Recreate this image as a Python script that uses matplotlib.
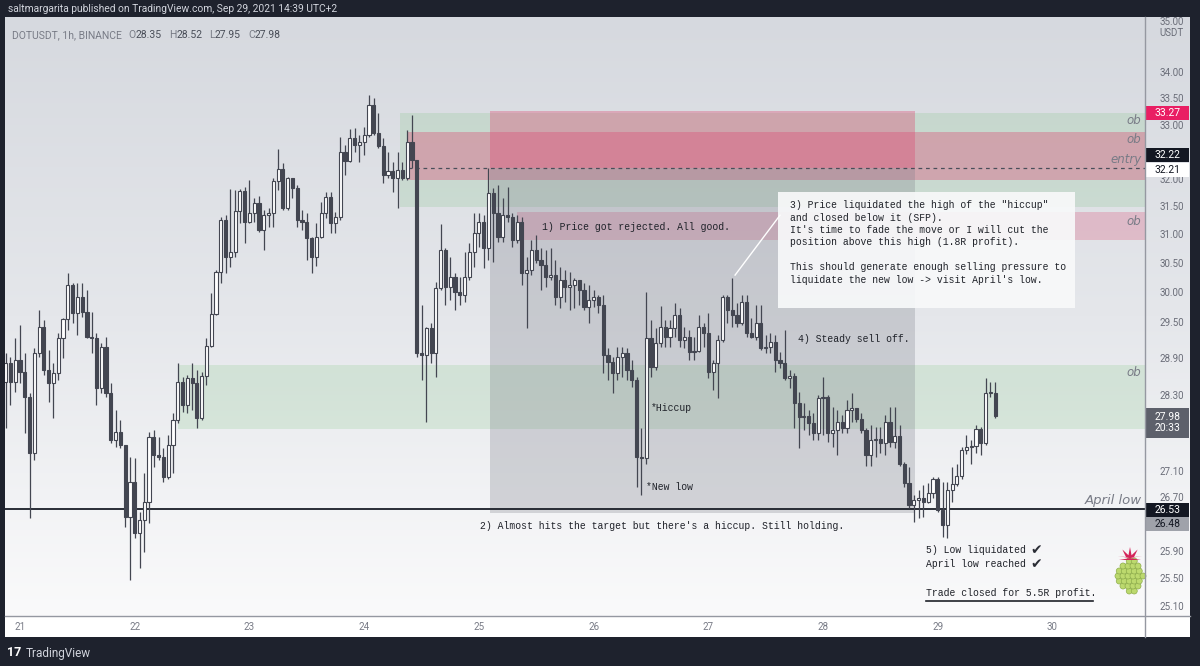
import numpy as np
import matplotlib
matplotlib.use("Agg")
import matplotlib.pyplot as plt
from matplotlib.patches import Rectangle, Circle, Polygon
from matplotlib.lines import Line2D
from matplotlib.colors import LinearSegmentedColormap
import matplotlib.transforms as mtransforms

# ---------------- data (DOTUSDT 1h, BINANCE) ----------------
first_hour = -3          # first candle = Sep 20, 21:00 (hours from Sep 21 00:00)
first_open = 28.52
closes = [
    28.83, 28.52, 28.88, 28.69, 28.28, 27.39, 29.00, 29.43, 28.72, 28.50,
    28.67, 29.24, 29.56, 30.14, 29.66, 29.93, 29.68, 29.26, 29.24, 28.42,
    29.10, 28.34, 27.60, 27.72, 27.52, 26.41, 26.94, 26.17, 26.37, 26.64,
    27.64, 27.36, 27.33, 27.02, 27.52, 27.92, 28.52, 28.15, 28.58, 28.50,
    27.94, 28.62, 29.11, 29.64, 30.36, 31.27, 30.62, 30.71, 31.44, 31.79,
    31.24, 31.40, 31.58, 31.10, 31.36, 31.40, 31.97, 32.20, 31.49, 32.03,
    31.85, 31.27, 31.24, 30.95, 30.62, 30.97, 31.40, 31.69, 31.22, 31.33,
    32.51, 32.34, 32.77, 32.64, 32.69, 32.82, 33.39, 32.86, 32.62, 32.08,
    32.16, 32.03, 32.18, 32.03, 32.69, 32.36, 29.00, 28.96, 29.41, 29.00,
    30.09, 30.74, 30.10, 30.28, 30.02, 29.97, 30.28, 30.71, 31.04, 31.24,
    30.78, 31.76, 31.40, 30.97, 31.36, 31.33, 30.92, 31.24, 30.35, 30.40,
    30.74, 30.57, 30.48, 30.28, 30.31, 29.93, 30.22, 30.10, 30.14, 30.22,
    30.05, 29.76, 29.88, 29.93, 29.80, 28.96, 28.85, 28.67, 28.93, 29.00,
    28.72, 28.55, 27.33, 27.31, 29.24, 28.77, 29.16, 29.43, 29.26, 29.41,
    29.63, 29.21, 29.26, 29.02, 29.03, 29.43, 29.33, 28.69, 28.83, 29.21,
    29.93, 29.71, 29.63, 29.49, 29.85, 29.33, 29.26, 29.49, 29.08, 29.10,
    29.18, 28.88, 28.83, 28.58, 28.62, 28.18, 27.96, 27.97, 27.86, 27.70,
    28.26, 28.28, 27.70, 27.75, 27.88, 27.78, 28.07, 28.10, 27.93, 27.75,
    27.36, 27.60, 27.61, 27.55, 27.88, 27.57, 27.66, 27.23, 26.93, 26.59,
    26.67, 26.71, 26.64, 26.78, 27.00, 26.52, 26.29, 26.82, 26.91, 27.04,
    27.44, 27.49, 27.50, 27.77, 27.55, 28.35, 28.35, 27.98,
]
highs = [
    29.00, 28.93, 29.24, 29.46, 29.00, 28.34, 29.08, 29.71, 29.54, 29.05,
    28.83, 29.33, 29.58, 30.35, 30.17, 30.17, 30.17, 30.05, 29.68, 29.33,
    29.16, 29.26, 28.50, 28.07, 27.91, 27.52, 27.33, 27.31, 26.49, 27.08,
    27.72, 27.75, 27.64, 27.47, 27.67, 28.02, 28.83, 28.60, 28.63, 28.83,
    28.72, 28.68, 29.24, 30.00, 30.40, 31.33, 31.36, 31.83, 31.81, 31.83,
    31.87, 31.99, 31.67, 31.70, 31.45, 31.49, 32.03, 32.56, 32.30, 32.05,
    32.03, 31.90, 31.45, 31.40, 30.97, 31.22, 31.60, 31.78, 31.78, 31.42,
    32.79, 32.64, 32.94, 32.96, 32.82, 32.97, 33.58, 33.52, 33.24, 32.77,
    32.51, 32.32, 32.51, 32.32, 32.92, 33.20, 32.36, 29.80, 29.43, 29.49,
    30.19, 31.20, 30.78, 30.62, 30.35, 30.28, 30.71, 30.87, 31.40, 31.40,
    31.36, 32.21, 31.85, 31.90, 31.67, 31.87, 31.40, 31.36, 31.33, 30.62,
    30.92, 31.01, 30.78, 30.74, 30.78, 30.57, 30.45, 30.40, 30.36, 30.26,
    30.22, 30.17, 30.14, 30.05, 29.97, 29.97, 29.08, 28.93, 29.10, 29.10,
    29.08, 28.88, 28.60, 27.78, 30.02, 29.54, 29.41, 29.78, 29.54, 29.54,
    29.83, 29.75, 29.43, 29.38, 29.26, 29.63, 29.49, 29.66, 28.88, 29.30,
    29.97, 29.97, 30.26, 29.83, 29.97, 29.97, 29.58, 29.80, 29.80, 29.30,
    29.33, 29.30, 29.02, 29.38, 28.72, 28.67, 28.36, 28.18, 28.07, 28.02,
    28.31, 28.60, 28.31, 28.12, 28.07, 27.99, 28.23, 28.34, 28.10, 28.02,
    27.78, 27.83, 27.80, 27.80, 28.00, 28.12, 28.12, 27.83, 27.25, 27.17,
    26.75, 26.82, 26.90, 26.93, 27.02, 27.02, 26.94, 26.94, 27.17, 27.23,
    27.49, 27.67, 27.60, 27.83, 27.80, 28.58, 28.52, 28.52,
]
lows = [
    27.78, 28.15, 28.36, 28.50, 27.70, 26.40, 27.28, 28.93, 28.63, 28.20,
    27.94, 28.55, 28.91, 29.38, 29.49, 29.30, 29.59, 29.24, 29.00, 28.15,
    28.34, 28.28, 27.55, 27.49, 27.47, 26.26, 25.48, 26.10, 25.66, 25.89,
    26.32, 27.17, 27.28, 26.94, 27.00, 27.08, 27.86, 28.04, 28.02, 28.07,
    27.78, 27.91, 28.47, 29.10, 29.63, 30.17, 30.35, 30.45, 30.62, 31.22,
    30.87, 31.22, 31.24, 31.06, 30.74, 31.15, 31.15, 31.81, 31.45, 31.45,
    31.67, 31.15, 31.10, 30.57, 30.35, 30.47, 30.95, 31.31, 31.05, 31.05,
    31.27, 32.08, 32.32, 32.51, 32.32, 32.45, 32.79, 32.82, 32.58, 31.94,
    32.03, 31.78, 31.49, 31.99, 31.99, 32.21, 28.93, 28.55, 27.88, 28.83,
    28.60, 30.05, 29.80, 29.88, 29.71, 29.80, 29.85, 30.22, 30.45, 30.80,
    30.43, 30.57, 30.54, 30.88, 30.88, 31.24, 30.80, 30.87, 30.14, 29.41,
    30.31, 30.52, 30.05, 30.10, 30.22, 29.80, 29.75, 29.85, 29.71, 29.75,
    29.80, 29.71, 29.49, 29.76, 29.66, 28.67, 28.55, 28.34, 28.55, 28.60,
    28.55, 28.44, 26.87, 26.75, 27.23, 28.60, 28.72, 29.10, 29.10, 29.10,
    29.26, 29.10, 29.08, 28.88, 28.88, 29.02, 29.10, 28.58, 28.39, 28.26,
    29.18, 29.49, 29.43, 29.43, 29.46, 29.26, 29.24, 29.21, 29.05, 29.00,
    29.00, 28.69, 28.75, 28.55, 28.42, 27.78, 27.47, 27.75, 27.67, 27.60,
    27.60, 27.67, 27.57, 27.49, 27.36, 27.70, 27.70, 27.88, 27.88, 27.70,
    27.20, 27.20, 27.33, 27.39, 27.36, 27.49, 27.47, 27.20, 26.87, 26.55,
    26.34, 26.40, 26.41, 26.62, 26.71, 26.49, 26.11, 26.10, 26.64, 26.88,
    27.00, 27.38, 27.23, 27.39, 27.36, 27.52, 28.28, 27.95,
]
opens = [first_open] + closes[:-1]

day_labels = ["21", "22", "23", "24", "25", "26", "27", "28", "29", "30"]
day_hours = [0, 24, 48, 72, 96, 120, 144, 168, 192, 216]
# visible price-scale labels (32.50, 27.70 and 26.30 are hidden behind price tags)
price_ticks = [35.00, 34.00, 33.50, 33.00, 32.00, 31.50, 31.00, 30.50, 30.00,
               29.50, 28.90, 28.30, 27.10, 26.70, 25.90, 25.50, 25.10]

# trade / zones
entry_price = 32.21
stop_price = 33.27
target_price = 26.48
april_low = 26.53
ob_upper_green = (31.51, 33.24)
ob_upper_red = (31.99, 32.88)
ob_mid_red = (30.92, 31.42)
ob_lower_green = (27.77, 28.80)

# ---------------- layout ----------------
W, H = 1200, 666
fig = plt.figure(figsize=(12, 6.66), dpi=100)
fig.patch.set_facecolor("#1e222d")


def frect(x0, y0, x1, y1):
    return [x0 / W, 1 - y1 / H, (x1 - x0) / W, (y1 - y0) / H]


TOP, BOT = 17, 616
YMIN, YMAX = 24.97, 35.10
XMIN, XMAX = -3.14, 235.36

# background gradient
ax_bg = fig.add_axes(frect(5, TOP, 1190, BOT))
grad = np.linspace(0, 1, 256).reshape(-1, 1)
cmap = LinearSegmentedColormap.from_list("bg", ["#d6d9df", "#e5e7eb", "#fafafb"])
ax_bg.imshow(grad, aspect="auto", cmap=cmap, extent=[0, 1, 0, 1])
ax_bg.axis("off")

ax = fig.add_axes(frect(5, TOP, 1145, BOT))
ax.set_facecolor("none")
ax.set_yscale("log")
ax.set_ylim(YMIN, YMAX)
ax.set_xlim(XMIN, XMAX)
ax.axis("off")

# ---- zones ----
GREEN = "#66bb6a"
RED = "#dc4a72"
GRAY = "#787b86"


def zone(x0, x1, lo, hi, color, alpha, z=1):
    ax.add_patch(Rectangle((x0, lo), x1 - x0, hi - lo, facecolor=color,
                           edgecolor="none", alpha=alpha, zorder=z))


zone(79.5, XMAX, *ob_upper_green, GREEN, 0.17)
zone(81.2, XMAX, *ob_upper_red, RED, 0.36)
zone(104.0, XMAX, *ob_mid_red, RED, 0.26)
zone(33.05, XMAX, *ob_lower_green, GREEN, 0.17)

pos_x0, pos_x1 = 98.3, 187.2
zone(pos_x0, pos_x1, entry_price, stop_price, RED, 0.36, z=1.5)
zone(pos_x0, pos_x1, target_price, entry_price, GRAY, 0.27, z=1.5)

ax.hlines(entry_price, 81.2, XMAX, colors="#4a4e59", linestyles=(0, (3, 3)),
          lw=0.9, zorder=2.5)
ax.axhline(april_low, color="#1b1e27", lw=1.3, zorder=2.6)

# ---- candles ----
o = np.array(opens)
c = np.array(closes)
hi = np.array(highs)
lo = np.array(lows)
x = np.arange(len(c)) + first_hour
up = c >= o
ink = "#434651"
ax.vlines(x, lo, hi, colors=ink, lw=0.9, zorder=3)
bottom = np.minimum(o, c)
height = np.maximum(np.abs(c - o), 0.012)
ax.bar(x[up], height[up], bottom=bottom[up], width=0.66, color="white",
       edgecolor=ink, linewidth=0.8, zorder=4)
ax.bar(x[~up], height[~up], bottom=bottom[~up], width=0.66, color=ink,
       edgecolor=ink, linewidth=0.8, zorder=4)

# ---- annotations ----
MONO = ["Liberation Mono", "DejaVu Sans Mono", "DejaVu Sans"]
TXT = "#1f2229"
fs = 7
ax.text(109.2, 31.15, "1) Price got rejected. All good.", family=MONO, fontsize=fs,
        color=TXT, va="center", ha="left", zorder=7)
ax.text(132.0, 28.11, "*Hiccup", family=MONO, fontsize=fs, color=TXT,
        va="center", ha="left", zorder=7)
ax.text(131.0, 26.87, "*New low", family=MONO, fontsize=fs, color=TXT,
        va="center", ha="left", zorder=7)
ax.text(96.2, 26.28, "2) Almost hits the target but there's a hiccup. Still holding.",
        family=MONO, fontsize=fs, color=TXT, va="center", ha="left", zorder=7)
ax.text(162.8, 29.23, "4) Steady sell off.", family=MONO, fontsize=fs, color=TXT,
        va="center", ha="left", zorder=7)

# callout box
ax.add_patch(Rectangle((158.6, 29.75), 220.7 - 158.6, 31.78 - 29.75,
                       facecolor="#f8f9fa", edgecolor="none", alpha=0.92, zorder=6))
box_text = ("3) Price liquidated the high of the \"hiccup\"\n"
            "and closed below it (SFP).\n"
            "It's time to fade the move or I will cut the\n"
            "position above this high (1.8R profit).\n"
            "\n"
            "This should generate enough selling pressure to\n"
            "liquidate the new low -> visit April's low.")
ax.text(161.1, 31.63, box_text, family=MONO, fontsize=fs, color=TXT, va="top",
        ha="left", linespacing=1.3, zorder=7)
ax.plot([149.6, 159.0], [30.31, 31.36], color="white", lw=1.0, zorder=6.5)

t5 = ax.text(189.5, 25.92, "5) Low liquidated", family=MONO, fontsize=fs,
             color=TXT, va="center", ha="left", zorder=7)
t6 = ax.text(189.5, 25.72, "April low reached", family=MONO, fontsize=fs,
             color=TXT, va="center", ha="left", zorder=7)
for tt in (t5, t6):
    ax.annotate("\u2714", xy=(1, 0.5), xycoords=tt, xytext=(3.5, 0),
                textcoords="offset points", va="center", ha="left",
                fontsize=10, color="#2a2d35", family="DejaVu Sans", zorder=7)
ax.text(189.5, 25.30, "Trade closed for 5.5R profit.", family=MONO, fontsize=fs,
        color=TXT, va="center", ha="left", zorder=7)
ax.plot([189.5, 224.5], [25.18, 25.18], color="#1f2229", lw=1.2, zorder=7)

# right side zone labels
bt = mtransforms.blended_transform_factory(ax.transAxes, ax.transData)
for lbl, yv in [("ob", 33.10), ("ob", 32.73), ("entry", 32.36), ("ob", 31.24),
                ("ob", 28.68)]:
    ax.text(0.997, yv, lbl, transform=bt, ha="right", va="center", style="italic",
            color="#787b86", fontsize=8.5, zorder=7)
ax.text(0.997, 26.67, "April low", transform=bt, ha="right", va="center",
        style="italic", color="#787b86", fontsize=9.5, zorder=7)

# ---- price axis ----
ax_p = fig.add_axes(frect(1145, TOP, 1190, BOT))
ax_p.set_facecolor("none")
ax_p.set_yscale("log")
ax_p.set_ylim(YMIN, YMAX)
ax_p.set_xlim(0, 1)
ax_p.axis("off")
for t in price_ticks:
    ax_p.text(0.6, t, f"{t:.2f}", ha="center", va="center", color="#6a6d78",
              fontsize=7, family="Roboto", clip_on=True, zorder=2)
ax_p.text(0.6, 1 - 16 / 599, "USDT", transform=ax_p.transAxes, ha="center",
          va="center", color="#6a6d78", fontsize=7, family="Roboto", zorder=3)

kpx = 599 / np.log(YMAX / YMIN)
pbt = mtransforms.blended_transform_factory(ax_p.transAxes, ax_p.transData)


def tag(price, shift_px, text, bg, fg, half_px=7):
    center = price * np.exp(-shift_px / kpx)
    y0 = center * np.exp(-half_px / kpx)
    y1 = center * np.exp(half_px / kpx)
    ax_p.add_patch(Rectangle((0.02, y0), 0.96, y1 - y0, transform=pbt,
                             facecolor=bg, edgecolor="none", zorder=5))
    ax_p.text(0.5, center, text, transform=pbt, ha="center", va="center",
              color=fg, fontsize=7.5, family="Roboto", zorder=6, linespacing=1.15)


tag(stop_price, 2, f"{stop_price:.2f}", "#e91e63", "white")
tag(32.22, -12.6, "32.22", "#131722", "white")
tag(entry_price, 1.7, f"{entry_price:.2f}", "white", "#131722")
tag(closes[-1], 7, f"{closes[-1]:.2f}\n20:33", "#5d606b", "white", half_px=15)
tag(april_low, 0.5, f"{april_low:.2f}", "#131722", "white")
tag(target_price, 11.3, f"{target_price:.2f}", "#9fa2aa", "#131722")

# ---- time axis ----
ax_t = fig.add_axes(frect(5, BOT, 1190, 637))
ax_t.set_facecolor("white")
ax_t.set_xticks([])
ax_t.set_yticks([])
for s in ax_t.spines.values():
    s.set_visible(False)
tbt = mtransforms.blended_transform_factory(ax.transData, ax_t.transAxes)
for h, lbl in zip(day_hours, day_labels):
    ax_t.text(h, 0.5, lbl, transform=tbt, ha="center", va="center",
              color="#787b86", fontsize=7, family="Roboto")

# separators
fig.add_artist(Line2D([5 / W, 1190 / W], [1 - BOT / H, 1 - BOT / H],
                      color="#9598a1", lw=1))
fig.add_artist(Line2D([1145 / W, 1145 / W], [1 - TOP / H, 1 - 637 / H],
                      color="#9598a1", lw=1))

# ---- header / footer ----
fig.text(8 / W, 1 - 9 / H, "saltmargarita published on TradingView.com, Sep 29, 2021 14:39 UTC+2",
         color="#d1d4dc", fontsize=7.4, family="Roboto", va="center", ha="left")
gray_txt = "#787b86"
dark_txt = "#4a4e59"
parts = [("O", gray_txt, 5), ("28.35", dark_txt, 0), ("H", gray_txt, 5),
         ("28.52", dark_txt, 0), ("L", gray_txt, 5), ("27.95", dark_txt, 0),
         ("C", gray_txt, 5), ("27.98", dark_txt, 0)]
prev = fig.text(12 / W, 1 - 35 / H, "DOTUSDT, 1h, BINANCE", color=gray_txt,
                fontsize=7.5, family="Roboto", va="center", ha="left")
for s, col, gap in parts:
    prev = ax.annotate(s, xy=(1, 0.5), xycoords=prev, xytext=(gap, 0),
                       textcoords="offset points", va="center", ha="left",
                       color=col, fontsize=7.5, family="Roboto",
                       annotation_clip=False)

fig.text(7 / W, 1 - 653 / H, "17", color="white", fontsize=9, fontweight="bold",
         family="Roboto", va="center", ha="left")
fig.text(26 / W, 1 - 653 / H, "TradingView", color="#d1d4dc", fontsize=8.5,
         family="Roboto", va="center", ha="left")

# ---- small raspberry logo ----
axl = fig.add_axes(frect(1110, 536, 1150, 596))
axl.set_xlim(0, 40)
axl.set_ylim(0, 60)
axl.set_aspect("equal")
axl.axis("off")
for cx in range(8, 34, 5):
    for cy in range(5, 36, 5):
        if ((cx - 20) / 13.5) ** 2 + ((cy - 20) / 15.5) ** 2 <= 1.0:
            axl.add_patch(Circle((cx + (cy % 10) * 0.25, cy), 3.0, facecolor="#bcd96e",
                                 edgecolor="#8fae4c", lw=0.5))
ang = np.linspace(np.pi * 0.1, np.pi * 0.9, 9)
pts = []
for i, a in enumerate(ang):
    r = 13 if i % 2 == 0 else 5
    pts.append((20 + r * np.cos(a), 36 + r * np.sin(a)))
pts = [(9, 36)] + pts + [(31, 36)]
axl.add_patch(Polygon(pts, closed=True, facecolor="#d4245a", edgecolor="none"))

fig.savefig("out.png", dpi=100, facecolor=fig.get_facecolor())
